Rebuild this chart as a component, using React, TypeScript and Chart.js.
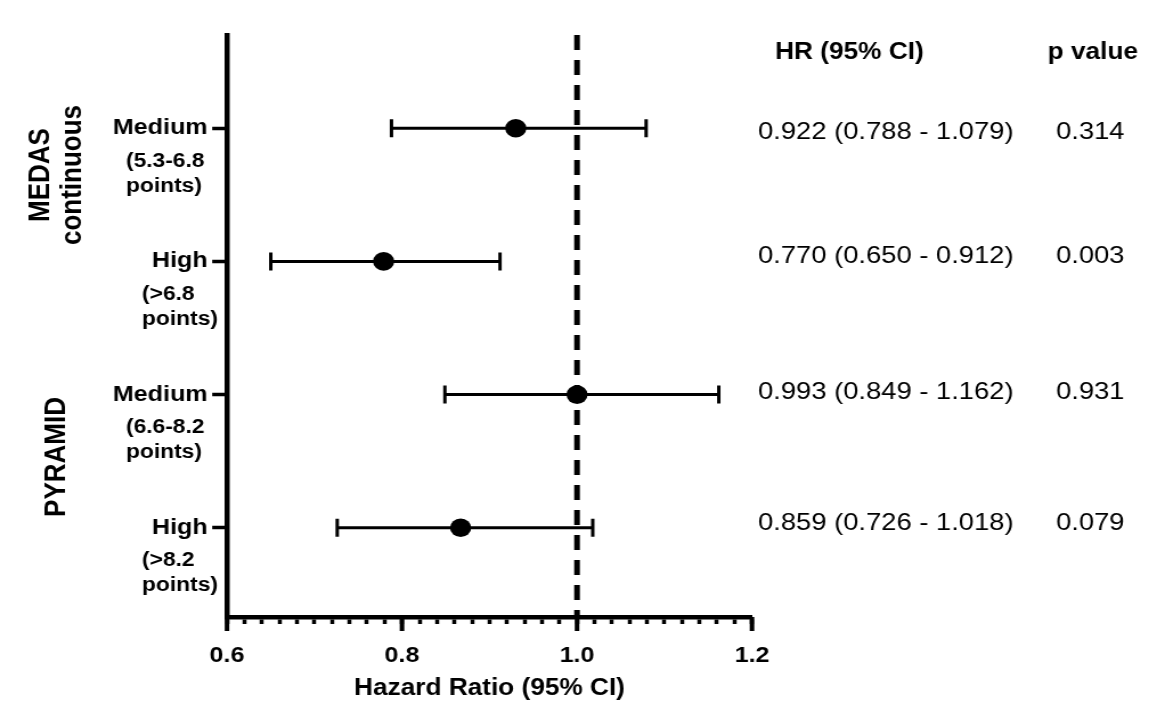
import { useEffect, useRef } from "react";
import { Chart, registerables } from "chart.js";

Chart.register(...registerables);

// ---- data ----
const rowLabels = ["Medium", "High", "Medium", "High"];
const rowSubLabels = [
  ["(5.3-6.8", "points)"],
  ["(>6.8", "points)"],
  ["(6.6-8.2", "points)"],
  ["(>8.2", "points)"],
];
const groupLabels = [["MEDAS", "continuous"], ["PYRAMID"]];
const rowPositions = [1, 2, 3, 4];
const hrPlotted = [0.93, 0.779, 1.0, 0.867];
const ciLow = [0.788, 0.65, 0.849, 0.726];
const ciHigh = [1.079, 0.912, 1.162, 1.018];
const hrText = [
  "0.922 (0.788 - 1.079)",
  "0.770 (0.650 - 0.912)",
  "0.993 (0.849 - 1.162)",
  "0.859 (0.726 - 1.018)",
];
const pValues = ["0.314", "0.003", "0.931", "0.079"];
const tableHeaders = ["HR (95% CI)", "p value"];
const xMajorTicks = [0.6, 0.8, 1.0, 1.2];
const xMinorStep = 0.02;
const referenceHR = 1.0;
const xTitle = "Hazard Ratio (95% CI)";

// ---- layout / style ----
const CANVAS_W = 1022;
const CANVAS_H = 704;
const SX = 1165 / CANVAS_W;
const FONT = "'Liberation Sans', Arial, Helvetica, sans-serif";

const xMin = xMajorTicks[0];
const xMax = xMajorTicks[xMajorTicks.length - 1];
const minorTicks: number[] = [];
for (let k = 0; k <= Math.round((xMax - xMin) / xMinorStep); k++) {
  minorTicks.push(Math.round((xMin + k * xMinorStep) * 1000) / 1000);
}
const isMajor = (v: number) => xMajorTicks.some((m) => Math.abs(m - v) < 1e-6);

const extrasPlugin = {
  id: "forestExtras",
  afterDraw(chart: any) {
    const { ctx, chartArea, scales } = chart;
    const xs = scales.x;
    const ys = scales.y;
    ctx.save();
    // long major ticks on x axis
    ctx.strokeStyle = "#000";
    ctx.lineWidth = 4;
    xMajorTicks.forEach((v) => {
      const px = xs.getPixelForValue(v);
      ctx.beginPath();
      ctx.moveTo(px, chartArea.bottom);
      ctx.lineTo(px, chartArea.bottom + 14);
      ctx.stroke();
    });

    ctx.fillStyle = "#000";
    // sub labels of rows
    ctx.font = `bold 20px ${FONT}`;
    ctx.textAlign = "left";
    ctx.textBaseline = "middle";
    rowSubLabels.forEach((lines, i) => {
      const py = ys.getPixelForValue(rowPositions[i]);
      const lx = rowLabels[i] === "Medium" ? 110.5 : 124.6;
      lines.forEach((t, j) => ctx.fillText(t, lx, py + 33 + j * 25));
    });

    // rotated group labels
    ctx.font = `bold 26px ${FONT}`;
    ctx.textAlign = "center";
    const groupPos = [
      { cx: [35.5, 64], cy: 175 },
      { cx: [50], cy: 457 },
    ];
    groupLabels.forEach((lines, g) =>
      lines.forEach((t, j) => {
        ctx.save();
        ctx.translate(groupPos[g].cx[j], groupPos[g].cy);
        ctx.rotate(-Math.PI / 2);
        ctx.fillText(t, 0, 0);
        ctx.restore();
      })
    );

    // table on the right
    ctx.textAlign = "left";
    ctx.font = `bold 23px ${FONT}`;
    ctx.fillText(tableHeaders[0], 680, 53);
    ctx.fillText(tableHeaders[1], 919, 53);
    ctx.font = `24px ${FONT}`;
    const tableY = [132, 256, 392, 523];
    hrText.forEach((t, i) => {
      ctx.fillText(t, 665, tableY[i]);
      ctx.fillText(pValues[i], 926.4, tableY[i]);
    });
    ctx.restore();
  },
};

function buildConfig(): any {
  return {
    type: "scatter",
    data: {
      datasets: [
        {
          type: "scatter",
          data: hrPlotted.map((v, i) => ({ x: v, y: rowPositions[i] })),
          pointRadius: 9.3,
          pointHoverRadius: 9.3,
          backgroundColor: "#000",
          borderColor: "#000",
          borderWidth: 0,
        },
        ...rowPositions.map((r, i) => ({
          type: "line",
          data: [
            { x: ciLow[i], y: r },
            { x: ciHigh[i], y: r },
          ],
          borderColor: "#000",
          borderWidth: 3,
          pointStyle: "line",
          pointRotation: 90,
          pointRadius: 9,
          pointHoverRadius: 9,
          pointBorderWidth: 3,
          pointBorderColor: "#000",
          pointBackgroundColor: "#000",
          fill: false,
          tension: 0,
        })),
        {
          type: "line",
          data: [
            { x: referenceHR, y: 0.3 },
            { x: referenceHR, y: 4.67 },
          ],
          borderColor: "#000",
          borderWidth: 5,
          borderDash: [15, 10],
          pointRadius: 0,
          fill: false,
        },
      ],
    },
    options: {
      responsive: false,
      animation: false,
      devicePixelRatio: 1,
      events: [],
      layout: { padding: { left: 0, top: 35, right: CANVAS_W - 752 / SX, bottom: 0 } },
      plugins: {
        legend: { display: false },
        tooltip: { enabled: false },
        title: { display: false },
      },
      scales: {
        x: {
          type: "linear",
          position: "bottom",
          min: xMin,
          max: xMax,
          afterBuildTicks: (s: any) => {
            s.ticks = minorTicks.map((v) => ({ value: v }));
          },
          afterFit: (s: any) => {
            s.height = 87;
          },
          ticks: {
            autoSkip: false,
            maxRotation: 0,
            minRotation: 0,
            padding: 19,
            color: "#000",
            font: { family: FONT, size: 22, weight: "bold" },
            callback: (v: any) => (isMajor(Number(v)) ? Number(v).toFixed(1) : ""),
          },
          grid: {
            display: true,
            drawOnChartArea: false,
            drawTicks: true,
            tickLength: 7,
            tickWidth: 3.5,
            tickColor: "#000",
          },
          border: { display: true, color: "#000", width: 4.5 },
          title: {
            display: true,
            text: xTitle,
            color: "#000",
            font: { family: FONT, size: 23, weight: "bold" },
            padding: { top: 0, bottom: 2 },
          },
        },
        y: {
          type: "linear",
          position: "left",
          reverse: true,
          min: 0.3,
          max: 4.67,
          afterBuildTicks: (s: any) => {
            s.ticks = rowPositions.map((v) => ({ value: v }));
          },
          afterFit: (s: any) => {
            s.width = 227 / SX;
          },
          ticks: {
            autoSkip: false,
            padding: 4,
            color: "#000",
            font: { family: FONT, size: 22, weight: "bold" },
            callback: (_v: any, i: number) => rowLabels[i] ?? "",
          },
          grid: {
            display: true,
            drawOnChartArea: false,
            drawTicks: true,
            tickLength: 13,
            tickWidth: 3.5,
            tickColor: "#000",
          },
          border: { display: true, color: "#000", width: 4.5 },
        },
      },
    },
    plugins: [extrasPlugin],
  };
}

export default function App() {
  const ref = useRef<HTMLCanvasElement>(null);
  useEffect(() => {
    document.body.style.margin = "0";
    if (!ref.current) return;
    const chart = new Chart(ref.current, buildConfig());
    return () => chart.destroy();
  }, []);
  return (
    <div
      style={{
        position: "absolute",
        left: 0,
        top: 0,
        width: 1165,
        height: 704,
        overflow: "hidden",
        background: "#fff",
      }}
    >
      <canvas
        ref={ref}
        width={CANVAS_W}
        height={CANVAS_H}
        style={{
          display: "block",
          width: `${CANVAS_W}px`,
          height: `${CANVAS_H}px`,
          transform: `scaleX(${SX})`,
          transformOrigin: "0 0",
        }}
      />
    </div>
  );
}
